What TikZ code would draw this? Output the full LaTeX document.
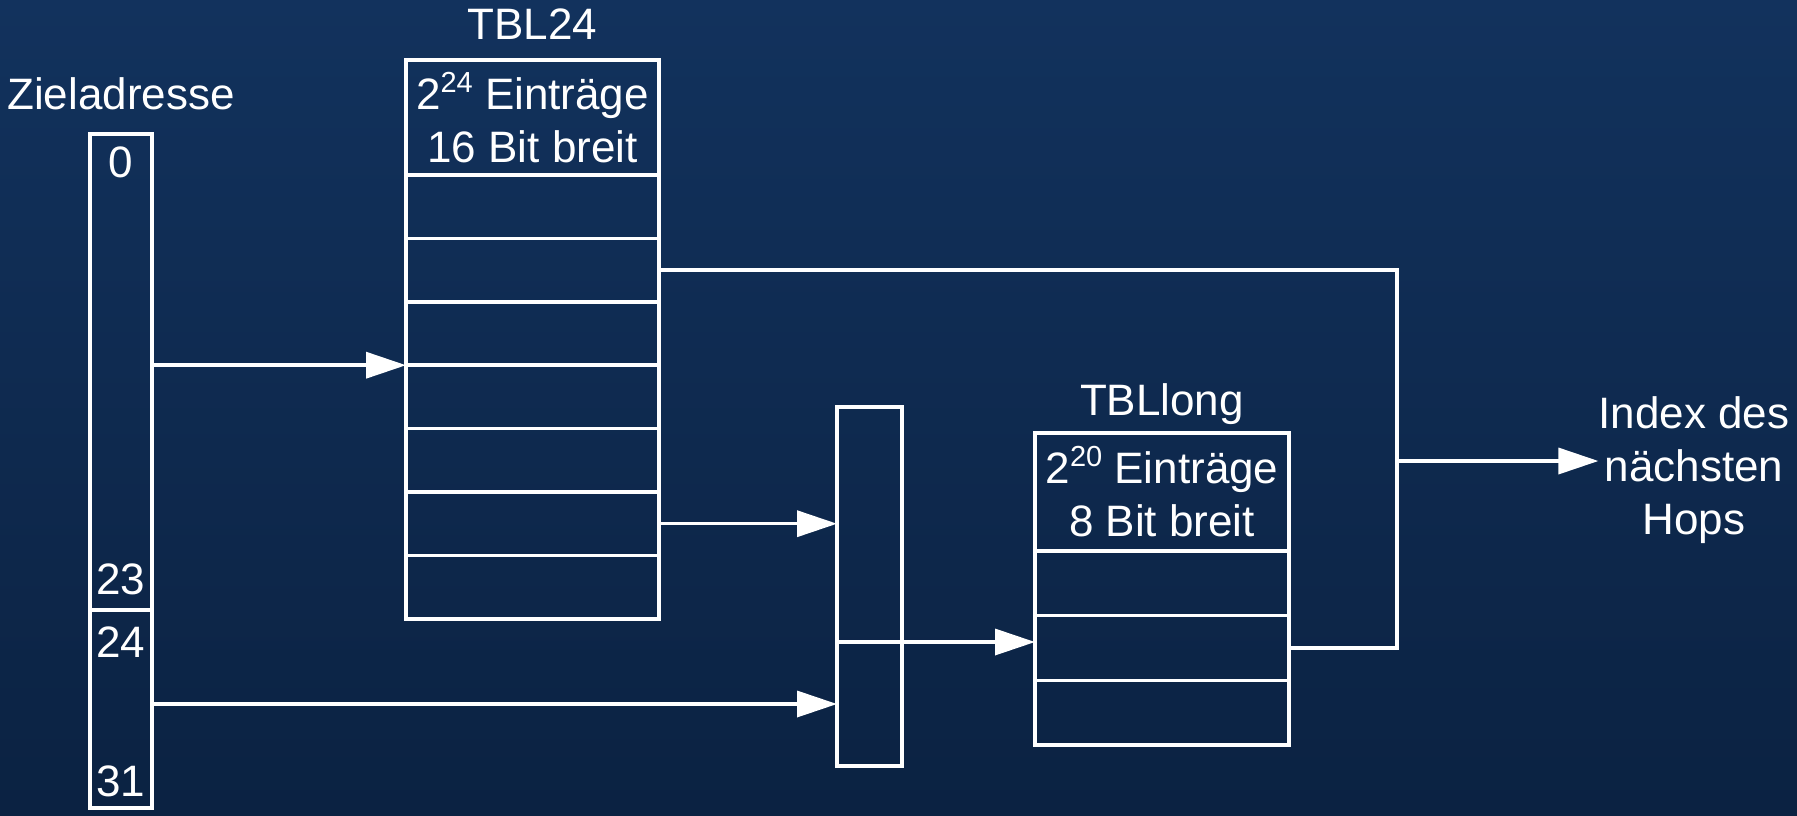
\documentclass[tikz,border=0pt]{standalone}
\usepackage{fontspec}
\setmainfont{Liberation Sans}
\usepackage{tikz}
\usetikzlibrary{arrows.meta, positioning, calc}
\definecolor{bgTop}{RGB}{18,50,93}
\definecolor{bgBot}{RGB}{11,34,66}
\newcommand{\hoch}[1]{\raisebox{17pt}{\fontsize{29}{29}\selectfont #1}}
\tikzset{
  lk/box/.style={rectangle, draw=white, line width=3.5pt, inner sep=0pt,
    outer sep=0pt, font=\fontsize{44}{53}\selectfont\color{white},
    align=center},
  lk/cell24/.style={lk/box, minimum width=253pt, minimum height=63.4pt},
  lk/celllong/.style={lk/box, minimum width=254pt, minimum height=64.7pt},
  lk/txt/.style={font=\fontsize{44}{53}\selectfont\color{white},
    inner sep=0pt, align=center},
  lk/arr/.style={-{Triangle[length=40pt,width=26pt]}, line width=3.5pt,
    draw=white},
  lk/line/.style={line width=3.5pt, draw=white}
}

\begin{document}
\begin{tikzpicture}[x=1pt, y=-1pt]
  \fill[top color=bgTop, bottom color=bgBot] (0,0) rectangle (1797,815);
  \useasboundingbox (0,0) rectangle (1797,815);

  % Zieladresse
  \node[lk/box, minimum width=62pt, minimum height=476pt] (zTop) at (121,372) {};
  \node[lk/box, minimum width=62pt, minimum height=198pt, below=0pt of zTop] (zBot) {};
  \node[lk/txt, above=24pt of zTop.north] (zTitle) {Zieladresse};
  \node[lk/txt, below=13pt of zTop.north] (b0) {0};
  \node[lk/txt, above=15pt of zTop.south] (b23) {23};
  \node[lk/txt, below=17pt of zBot.north] (b24) {24};
  \node[lk/txt, above=11pt of zBot.south] (b31) {31};

  % TBL24
  \node[lk/box, minimum width=253pt, minimum height=115pt] (t24r0) at (532.5,117.5)
        {2\hoch{24} Einträge\\16 Bit breit};
  \foreach \i [remember=\i as \lasti (initially 0)] in {1,...,7}
    \node[lk/cell24, below=0pt of t24r\lasti] (t24r\i) {};
  \node[lk/txt, above=20pt of t24r0.north] (t24Title) {TBL24};

  % Zwischenregister
  \node[lk/box, minimum width=65pt, minimum height=235pt] (mTop) at (869.5,524.5) {};
  \node[lk/box, minimum width=65pt, minimum height=124pt, below=0pt of mTop] (mBot) {};

  % TBLlong
  \node[lk/box, minimum width=254pt, minimum height=118pt] (tlr0) at (1162,492)
        {2\hoch{20} Einträge\\8 Bit breit};
  \foreach \i [remember=\i as \lasti (initially 0)] in {1,...,3}
    \node[lk/celllong, below=0pt of tlr\lasti] (tlr\i) {};
  \node[lk/txt, above=8pt of tlr0.north] (tlTitle) {TBLlong};

  \node[lk/txt] (hops) at (1694,470) {Index des\\nächsten\\Hops};
  \coordinate (join) at (1397,461);

  \draw[lk/arr] (zTop.east |- t24r3.south) -- (t24r3.south west);
  \draw[lk/line] (t24r2.east) -| (join) |- (tlr2.east);
  \draw[lk/arr] (join) -- (join -| hops.west);
  \draw[lk/arr] (t24r6.east) -- (t24r6.east -| mTop.west);
  \draw[lk/arr] (zBot.east |- mBot.west) -- (mBot.west);
  \draw[lk/arr] (mTop.south east) -- (mTop.south east -| tlr2.west);
\end{tikzpicture}
\end{document}
